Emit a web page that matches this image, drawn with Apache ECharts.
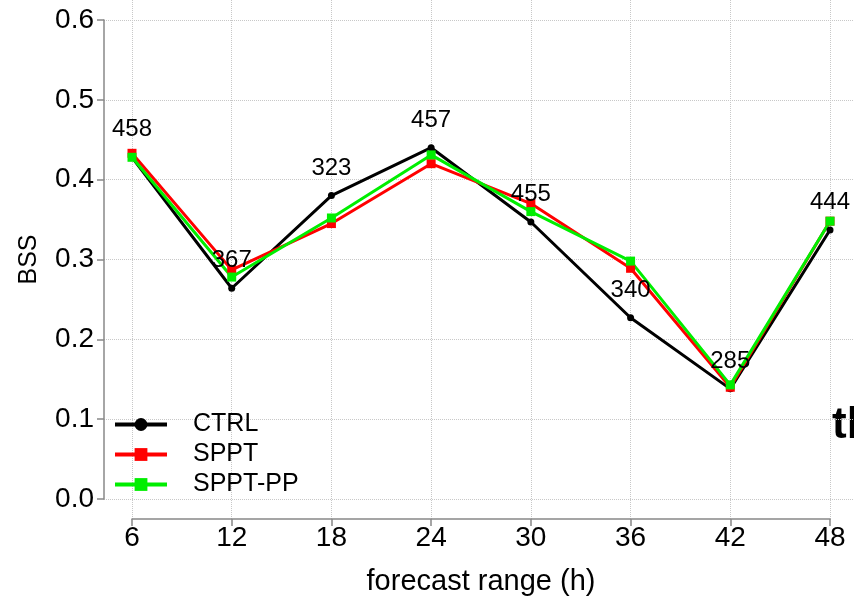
<!DOCTYPE html>
<html>
<head>
	<meta charset="utf-8" />
	<script src="https://cdn.jsdelivr.net/npm/echarts@6/dist/echarts.min.js"></script>
</head>
<body style="margin:0; background-color:#ffffff">
	<div id="main" style="width:854px; height:603px;"></div>
</body>
<script type="text/javascript">
	var hours = [6, 12, 18, 24, 30, 36, 42, 48];
	var ctrl = [0.428, 0.264, 0.380, 0.440, 0.347, 0.227, 0.138, 0.337];
	var sppt = [0.433, 0.287, 0.345, 0.420, 0.370, 0.289, 0.140, 0.348];
	var spptPP = [0.428, 0.278, 0.352, 0.431, 0.360, 0.298, 0.143, 0.348];
	var counts = [458, 367, 323, 457, 455, 340, 285, 444];
	var yTicks = ['0.0', '0.1', '0.2', '0.3', '0.4', '0.5', '0.6'];

	var font = 'Liberation Sans, Arial, sans-serif';
	var grid = { type: 'dotted', color: '#c8c8c8', width: 1 };

	function pairs(v) {
		return hours.map(function (h, i) { return [h, v[i]]; });
	}

	var myChart = echarts.init(document.getElementById('main'));

	option = {
		backgroundColor: '#ffffff',
		animation: false,
		grid: [
			{ left: 104, right: 0, top: 20, bottom: 104, outerBoundsMode: 'none', containLabel: false },
			{ left: 132, right: 24, top: 0, bottom: 84, outerBoundsMode: 'none', containLabel: false }
		],
		xAxis: [
			{ gridIndex: 0, type: 'value', min: 0, max: 1, show: false },
			{
				gridIndex: 1, type: 'value', min: 6, max: 48, interval: 6,
				axisLine: { onZero: false, lineStyle: { color: '#888888', width: 1.5 } },
				axisTick: { length: 7, lineStyle: { color: '#888888', width: 1.5 } },
				axisLabel: { color: '#000000', fontSize: 28, fontFamily: font, margin: 5 },
				splitLine: { show: true, lineStyle: grid },
				name: 'forecast range (h)',
				nameLocation: 'middle',
				nameGap: 48,
				nameTextStyle: { color: '#000000', fontSize: 29, fontFamily: font }
			}
		],
		yAxis: [
			{
				gridIndex: 0, type: 'value', min: 0, max: 0.6, interval: 0.1,
				axisLine: { show: true, lineStyle: { color: '#888888', width: 1.5 } },
				axisTick: { show: true, length: 7, lineStyle: { color: '#888888', width: 1.5 } },
				axisLabel: {
					color: '#000000', fontSize: 28, fontFamily: font, margin: 10,
					formatter: function (v) { return yTicks[Math.round(v * 10)]; }
				},
				splitLine: { show: true, lineStyle: grid },
				name: 'BSS',
				nameLocation: 'middle',
				nameGap: 62,
				nameTextStyle: { color: '#000000', fontSize: 25, fontFamily: font }
			},
			{ gridIndex: 1, type: 'value', min: -0.025, max: 0.625, show: false }
		],
		legend: {
			orient: 'vertical',
			left: 108,
			top: 407,
			itemWidth: 52,
			itemHeight: 16,
			itemGap: 5,
			lineStyle: { width: 4 },
			textStyle: { color: '#000000', fontSize: 25, fontFamily: font, padding: [0, 0, 0, 21] },
			data: ['CTRL', 'SPPT', 'SPPT-PP']
		},
		graphic: [
			{
				type: 'text', left: 832, top: 404,
				style: { text: 'th', fill: '#000000', font: 'bold 44px ' + font }
			}
		],
		series: [
			{
				name: 'CTRL', type: 'line', xAxisIndex: 1, yAxisIndex: 1,
				data: pairs(ctrl),
				symbol: 'circle', symbolSize: 7,
				itemStyle: { color: '#000000' },
				lineStyle: { color: '#000000', width: 3 },
				label: {
					show: true, position: 'top', distance: 12,
					color: '#000000', fontSize: 24, fontFamily: font,
					formatter: function (p) { return counts[p.dataIndex]; }
				}
			},
			{
				name: 'SPPT', type: 'line', xAxisIndex: 1, yAxisIndex: 1,
				data: pairs(sppt),
				symbol: 'rect', symbolSize: 9,
				itemStyle: { color: '#ff0000' },
				lineStyle: { color: '#ff0000', width: 3 }
			},
			{
				name: 'SPPT-PP', type: 'line', xAxisIndex: 1, yAxisIndex: 1,
				data: pairs(spptPP),
				symbol: 'rect', symbolSize: 9,
				itemStyle: { color: '#00ee00' },
				lineStyle: { color: '#00ee00', width: 3 }
			}
		]
	};

	myChart.setOption(option);
</script>
</html>
